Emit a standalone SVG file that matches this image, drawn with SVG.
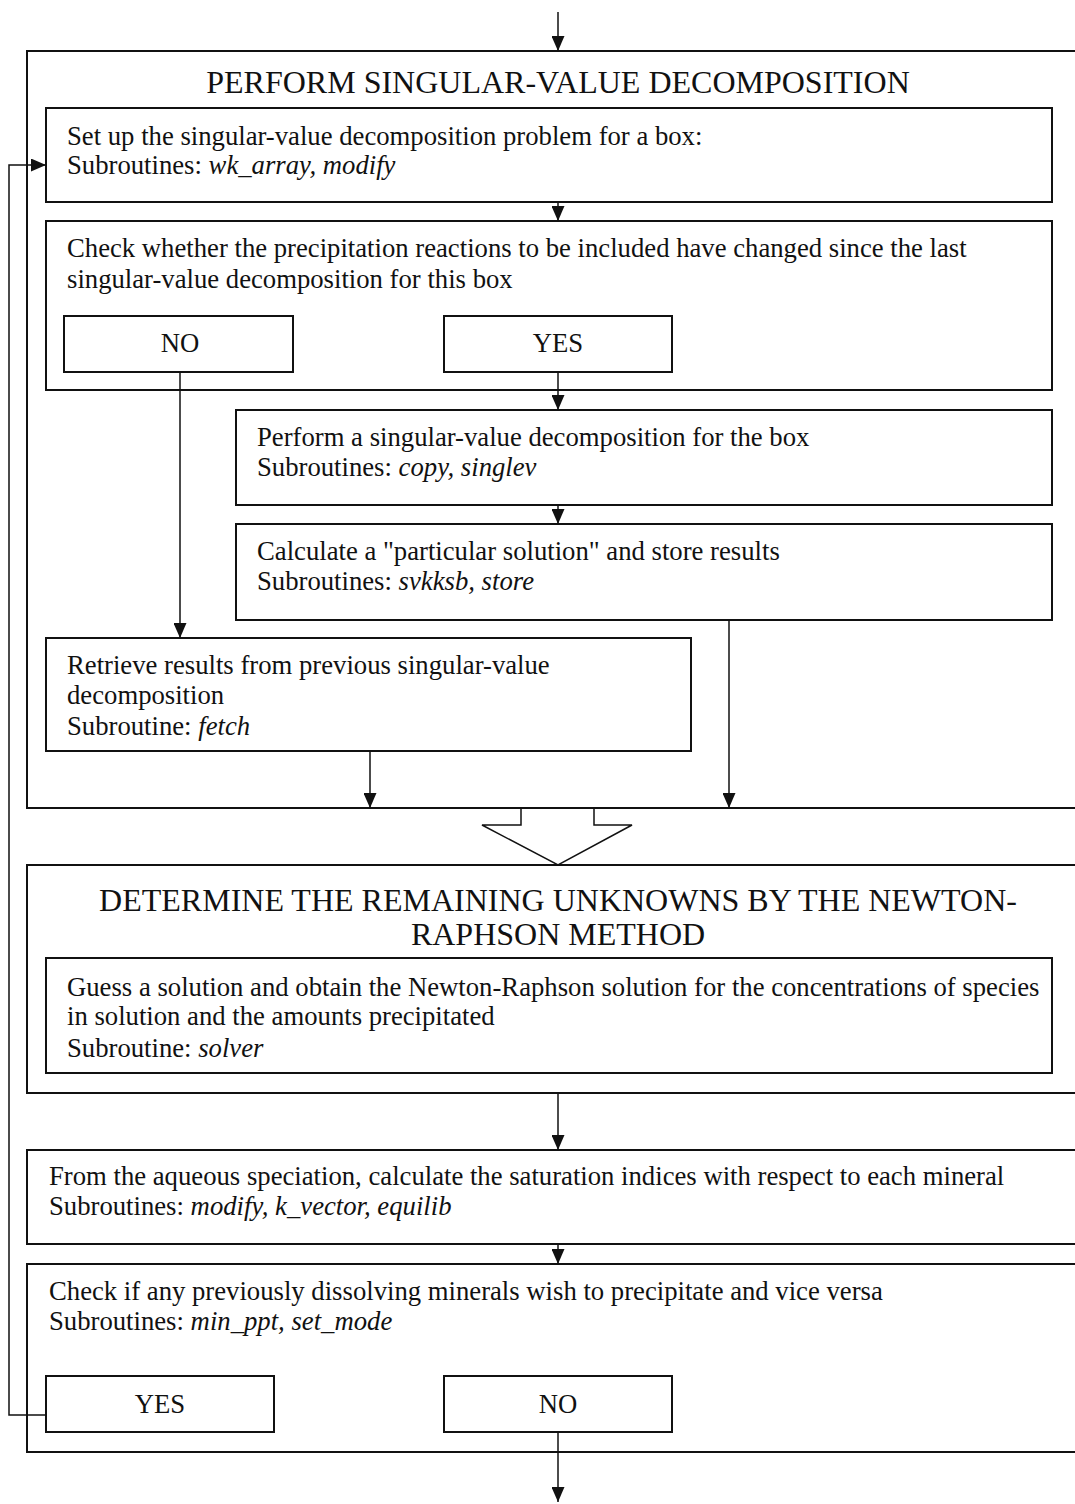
<svg xmlns="http://www.w3.org/2000/svg" width="1075" height="1504" viewBox="0 0 1075 1504">
  <style>
    .box { fill: none; stroke: #111; stroke-width: 2; }
    .wire { fill: none; stroke: #111; stroke-width: 1.5; }
    .t { font-family: "Liberation Serif", "Times New Roman", serif; font-size: 26.7px; fill: #111; }
    .h { font-family: "Liberation Serif", "Times New Roman", serif; font-size: 32px; fill: #111; text-anchor: middle; }
    .c { text-anchor: middle; }
    .i { font-style: italic; }
  </style>
  <defs>
    <marker id="ah" viewBox="0 0 15 13" refX="15" refY="6.5" markerWidth="15" markerHeight="13" markerUnits="userSpaceOnUse" orient="auto">
      <path d="M0,0 L15,6.5 L0,13 Z" fill="#111"/>
    </marker>
  </defs>
  <rect width="1075" height="1504" fill="#fff"/>

  <!-- outer container: singular-value decomposition stage -->
  <g id="svd-stage">
    <rect class="box" x="27" y="51" width="1070" height="757"/>
    <text class="h" x="558" y="93">PERFORM SINGULAR-VALUE DECOMPOSITION</text>
  </g>

  <g id="setup">
    <rect class="box" x="46" y="108" width="1006" height="94"/>
    <text class="t" x="67" y="145">Set up the singular-value decomposition problem for a box:</text>
    <text class="t" x="67" y="174">Subroutines: <tspan class="i">wk_array, modify</tspan></text>
  </g>

  <g id="check-changed">
    <rect class="box" x="46" y="221" width="1006" height="169"/>
    <text class="t" x="67" y="257">Check whether the precipitation reactions to be included have changed since the last</text>
    <text class="t" x="67" y="288">singular-value decomposition for this box</text>
  </g>

  <g id="changed-no">
    <rect class="box" x="64" y="316" width="229" height="56"/>
    <text class="t c" x="180" y="352">NO</text>
  </g>

  <g id="changed-yes">
    <rect class="box" x="444" y="316" width="228" height="56"/>
    <text class="t c" x="558" y="352">YES</text>
  </g>

  <g id="perform-svd">
    <rect class="box" x="236" y="410" width="816" height="95"/>
    <text class="t" x="257" y="446">Perform a singular-value decomposition for the box</text>
    <text class="t" x="257" y="476">Subroutines: <tspan class="i">copy, singlev</tspan></text>
  </g>

  <g id="particular">
    <rect class="box" x="236" y="524" width="816" height="96"/>
    <text class="t" x="257" y="560">Calculate a "particular solution" and store results</text>
    <text class="t" x="257" y="590">Subroutines: <tspan class="i">svkksb, store</tspan></text>
  </g>

  <g id="retrieve">
    <rect class="box" x="46" y="638" width="645" height="113"/>
    <text class="t" x="67" y="674">Retrieve results from previous singular-value</text>
    <text class="t" x="67" y="704">decomposition</text>
    <text class="t" x="67" y="735">Subroutine: <tspan class="i">fetch</tspan></text>
  </g>

  <!-- outer container: Newton-Raphson stage -->
  <g id="newton-stage">
    <rect class="box" x="27" y="865" width="1070" height="228"/>
    <text class="h" x="558" y="911">DETERMINE THE REMAINING UNKNOWNS BY THE NEWTON-</text>
    <text class="h" x="558" y="945">RAPHSON METHOD</text>
  </g>

  <g id="solver">
    <rect class="box" x="46" y="958" width="1006" height="115"/>
    <text class="t" x="67" y="996">Guess a solution and obtain the Newton-Raphson solution for the concentrations of species</text>
    <text class="t" x="67" y="1025">in solution and the amounts precipitated</text>
    <text class="t" x="67" y="1057">Subroutine: <tspan class="i">solver</tspan></text>
  </g>

  <g id="saturation">
    <rect class="box" x="27" y="1150" width="1070" height="94"/>
    <text class="t" x="49" y="1185">From the aqueous speciation, calculate the saturation indices with respect to each mineral</text>
    <text class="t" x="49" y="1215">Subroutines: <tspan class="i">modify, k_vector, equilib</tspan></text>
  </g>

  <g id="check-minerals">
    <rect class="box" x="27" y="1264" width="1070" height="188"/>
    <text class="t" x="49" y="1300">Check if any previously dissolving minerals wish to precipitate and vice versa</text>
    <text class="t" x="49" y="1330">Subroutines: <tspan class="i">min_ppt, set_mode</tspan></text>
  </g>

  <g id="minerals-yes">
    <rect class="box" x="46" y="1376" width="228" height="56"/>
    <text class="t c" x="160" y="1413">YES</text>
  </g>

  <g id="minerals-no">
    <rect class="box" x="444" y="1376" width="228" height="56"/>
    <text class="t c" x="558" y="1413">NO</text>
  </g>

  <!-- connectors -->
  <g id="connectors">
    <line class="wire" x1="558" y1="12" x2="558" y2="51" marker-end="url(#ah)"/>
    <line class="wire" x1="558" y1="202" x2="558" y2="221" marker-end="url(#ah)"/>
    <line class="wire" x1="558" y1="372" x2="558" y2="410" marker-end="url(#ah)"/>
    <line class="wire" x1="558" y1="505" x2="558" y2="524" marker-end="url(#ah)"/>
    <line class="wire" x1="180" y1="372" x2="180" y2="638" marker-end="url(#ah)"/>
    <line class="wire" x1="370" y1="751" x2="370" y2="808" marker-end="url(#ah)"/>
    <line class="wire" x1="729" y1="620" x2="729" y2="808" marker-end="url(#ah)"/>
    <!-- hollow block arrow between the two stages -->
    <path class="wire" d="M521,808 V825 H482 L558,865 L632,825 H594 V808" fill="#fff"/>
    <line class="wire" x1="558" y1="1093" x2="558" y2="1150" marker-end="url(#ah)"/>
    <line class="wire" x1="558" y1="1244" x2="558" y2="1264" marker-end="url(#ah)"/>
    <line class="wire" x1="558" y1="1432" x2="558" y2="1502" marker-end="url(#ah)"/>
    <!-- loop back to the set-up step -->
    <polyline class="wire" points="46,1415 9,1415 9,165 46,165" marker-end="url(#ah)"/>
  </g>
</svg>
